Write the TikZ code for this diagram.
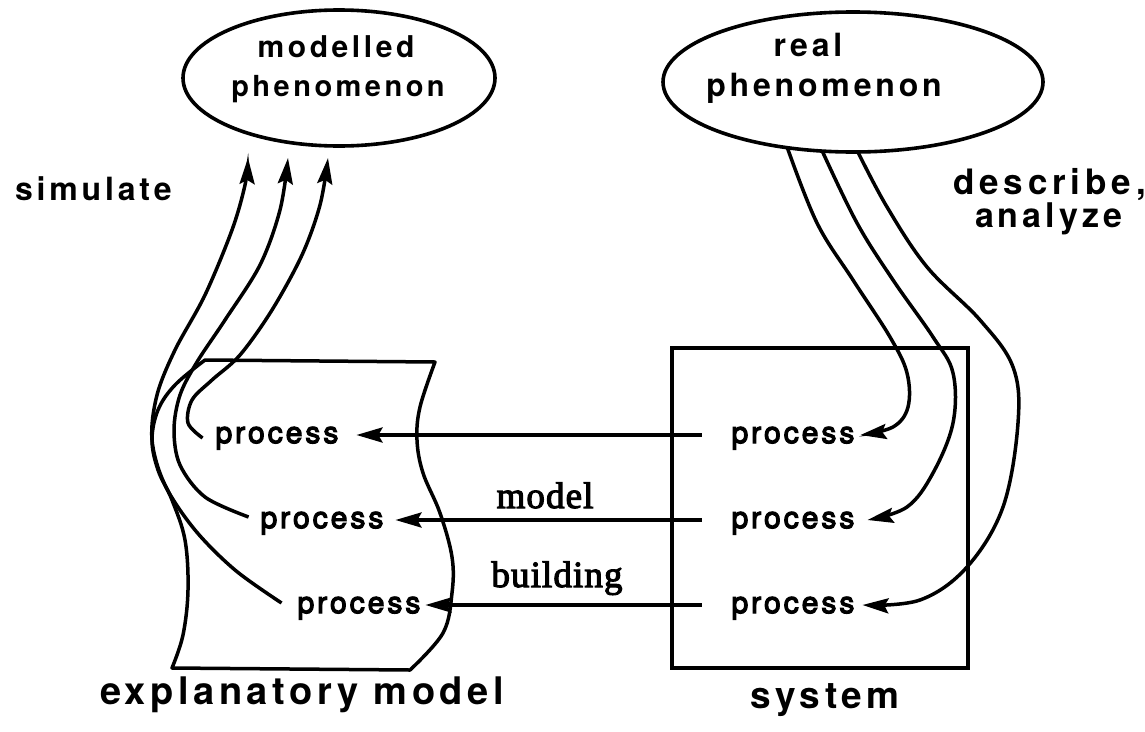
\documentclass[tikz,border=0pt]{standalone}
\usepackage{fontspec}
\setmainfont{TeX Gyre Heros}
\newfontfamily\hfont[LetterSpace=12]{TeX Gyre Heros}
\newfontfamily\procfont[LetterSpace=10,FakeBold=4]{TeX Gyre Heros}
\newfontfamily\serfont[LetterSpace=3,FakeBold=3]{Liberation Serif}
\usetikzlibrary{shapes.geometric,arrows.meta}
\tikzset{
  every node/.style={inner sep=0pt, outer sep=0pt},
  lab/.style 2 args={font={\hfont\fontsize{#1}{#1}\selectfont\bfseries\addfontfeatures{LetterSpace=#2}}},
  proc/.style={font={\procfont\fontsize{30}{34}\selectfont}, text height=16pt, text depth=0pt},
  ser/.style={font={\serfont\fontsize{37}{40}\selectfont}, anchor=base},
  ln/.style={line width=3.5pt, line join=round},
  arr/.style={line width=3.5pt, -{Stealth[length=26pt,width=15pt,inset=4pt]}},
  oval/.style={ellipse, draw, line width=3.6pt},
}
\begin{document}
\begin{tikzpicture}[x=1pt,y=-1pt]
\useasboundingbox (0,0) rectangle (1145,731);

% ellipses
\node[oval, minimum width=312pt, minimum height=136pt] (mpe) at (339,78) {};
\node[oval, minimum width=380pt, minimum height=140pt] (rpe) at (853,82) {};
\node[lab={30}{12}, anchor=base] (mt1) at (336,57) {modelled};
\node[lab={29}{12}, anchor=base] (mt2) at (338,96) {phenomenon};
\node[lab={32}{12}, anchor=base] (rt1) at (808,56) {real};
\node[lab={32}{12}, anchor=base] (rt2) at (824,96) {phenomenon};

% side labels
\node[lab={32}{12}, anchor=base west] (sim) at (15,200) {simulate};
\node[lab={35}{14}, anchor=base west] (des) at (953,194) {describe,};
\node[lab={34}{12}, anchor=base west] (ana) at (975,227) {analyze};

% bottom labels
\node[lab={38}{12}, anchor=base] (expl) at (302,704) {explanatory model};
\node[lab={37}{12}, anchor=base] (syst) at (825,708) {system};

% system box
\node[draw, line width=3.5pt, minimum width=296pt, minimum height=320pt] (sysbox) at (820,508) {};

% explanatory model box
\draw[ln] plot[smooth, tension=0.6] coordinates {(205,360) (175,385) (158,410) (152,440) (158,470) (172,500) (185,540) (188,590) (183,635) (172,668)}
  -- (410,670)
  -- plot[smooth, tension=0.6] coordinates {(410,670) (443,633) (452,593) (452,557) (440,513) (423,473) (417,440) (420,407) (435,362)}
  -- cycle;

% process nodes
\node[proc] (p1L) at (277,435) {process};
\node[proc] (p2L) at (322,520) {process};
\node[proc] (p3L) at (359,605) {process};
\node[proc] (p1R) at (793,435) {process};
\node[proc] (p2R) at (793,520) {process};
\node[proc] (p3R) at (793,605) {process};

% model building arrows
\draw[arr] ([xshift=-30pt]p1R.west) -- ([xshift=18pt]p1L.east);
\draw[arr] ([xshift=-30pt]p2R.west) -- ([xshift=12pt]p2L.east);
\draw[arr] ([xshift=-30pt]p3R.west) -- ([xshift=5pt]p3L.east);
\node[ser] (mdl) at (545,508) {model};
\node[ser] (bld) at (557,587) {building};

% simulate arrows
\coordinate (tA) at (328,158);
\coordinate (tB) at (288,158);
\coordinate (tC) at (248,158);
\draw[arr] plot[smooth, tension=0.55] coordinates {([shift={(-13,3)}]p1L.west) (188,423) (192,400) (212,380) (240,355) (272,310) (302,255) (320,205) (tA)};
\draw[arr] plot[smooth, tension=0.55] coordinates {([shift={(-12,-3)}]p2L.west) (205,497) (180,465) (174,430) (180,395) (197,362) (225,320) (260,265) (280,210) (tB)};
\draw[arr] plot[smooth, tension=0.55] coordinates {([shift={(-16,-2)}]p3L.west) (235,570) (195,530) (165,485) (152,440) (157,395) (175,350) (205,295) (232,230) (245,185) (tC)};

% describe arrows
\draw[arr] plot[smooth, tension=0.6] coordinates {(rpe.225) (817,223) (853,280) (890,337) (907,373) (908,407) (893,427) ([xshift=6pt]p1R.east)};
\draw[arr] plot[smooth, tension=0.6] coordinates {(rpe.246) (857,223) (893,280) (933,337) (953,373) (953,423) (933,473) (907,507) ([xshift=13pt]p2R.east)};
\draw[arr] plot[smooth, tension=0.6] coordinates {(rpe.274) (887,207) (927,267) (980,320) (1013,367) (1018,423) (1003,507) (967,567) (920,600) ([xshift=8pt]p3R.east)};
\end{tikzpicture}
\end{document}
